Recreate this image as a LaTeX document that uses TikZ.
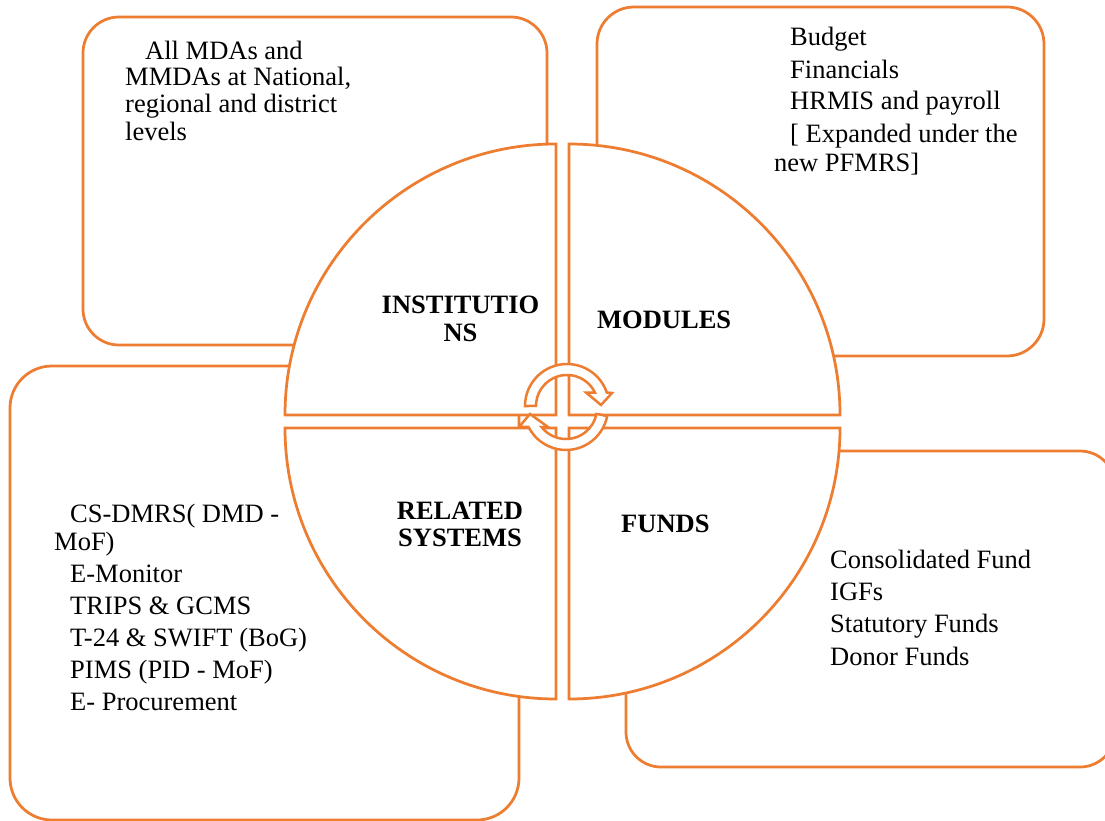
\documentclass[tikz,border=0pt]{standalone}
\usepackage{fontspec}
\setmainfont{Liberation Serif}
\definecolor{acc}{HTML}{ED7D31}
\begin{document}
\begin{tikzpicture}[x=1pt,y=-1pt,
  boxshape/.style={draw=acc, line width=2.75pt, fill=white},
  quad/.style={draw=acc, line width=2.75pt, fill=white, line join=miter},
  cyc/.style={draw=acc, line width=2.5pt, fill=white, line join=miter},
  txt/.style={anchor=base west, inner sep=0pt, font=\fontsize{26.5}{32}\selectfont},
  lbl/.style={anchor=base, inner sep=0pt, font=\fontsize{26.5}{32}\selectfont\bfseries}]
\useasboundingbox (0,0) rectangle (1105,821);
\fill[white] (0,0) rectangle (1105,821);

% outer text boxes
\draw[boxshape, rounded corners=36pt] (83,17) rectangle (547,345);
\draw[boxshape, rounded corners=37pt] (597,7) rectangle (1044,356);
\draw[boxshape, rounded corners=42pt] (10,366) rectangle (519,820);
\draw[boxshape, rounded corners=35pt] (626,451) rectangle (1115,767);

% four quadrants of the circle
\draw[quad] (556,415) -- (285,415) arc[start angle=180, end angle=270, radius=271] -- cycle;
\draw[quad] (569,415) -- (569,144) arc[start angle=270, end angle=360, radius=271] -- cycle;
\draw[quad] (569,428) -- (840,428) arc[start angle=0, end angle=90, radius=271] -- cycle;
\draw[quad] (556,428) -- (556,699) arc[start angle=90, end angle=180, radius=271] -- cycle;

% circular arrows in the centre
\coordinate (uc) at (567,406);
\coordinate (lc) at (566,408);
\draw[cyc] (525,406) arc[start angle=180, end angle=341.3, radius=42]
  -- (612,393) -- (601,405) -- (586,392.5) -- (594.9,392.5)
  arc[start angle=334.2, end angle=180, radius=31] -- cycle;
\draw[cyc] (607.2,416) arc[start angle=11, end angle=153.1, radius=42]
  -- (519,427) -- (530,414) -- (548,427) -- (541.5,427)
  arc[start angle=142.2, end angle=11, radius=31] -- cycle;

% quadrant labels
\node[lbl] (inst1) at (460.5,313) {INSTITUTIO};
\node[lbl] (inst2) at (460.5,341.7) {NS};
\node[lbl, anchor=base west] (mod) at (597,328.3) {MODULES};
\node[lbl] (rel1) at (460,519.3) {RELATED};
\node[lbl] (rel2) at (460,546.7) {SYSTEMS};
\node[lbl, anchor=base west] (fund) at (621,532.7) {FUNDS};

% top-left box text
\node[txt] (i1) at (145,59.3) {All MDAs and};
\node[txt] (i2) at (125,86) {MMDAs at National,};
\node[txt] (i3) at (125,113) {regional and district};
\node[txt] (i4) at (125,140.7) {levels};

% top-right box text
\node[txt] (m1) at (790,45.7) {Budget};
\node[txt] (m2) at (790,78.3) {Financials};
\node[txt] (m3) at (790,110) {HRMIS and payroll};
\node[txt] (m4) at (790,142.7) {[ Expanded under the};
\node[txt] (m5) at (774,171.7) {new PFMRS]};

% bottom-left box text
\node[txt] (r1) at (70,522.7) {CS-DMRS( DMD -};
\node[txt] (r2) at (54,550) {MoF)};
\node[txt] (r3) at (70,582.7) {E-Monitor};
\node[txt] (r4) at (70,614) {TRIPS \& GCMS};
\node[txt] (r5) at (70,646.7) {T-24 \& SWIFT (BoG)};
\node[txt] (r6) at (70,678.3) {PIMS (PID - MoF)};
\node[txt] (r7) at (70,710.7) {E- Procurement};

% bottom-right box text
\node[txt] (f1) at (830,568.3) {Consolidated Fund};
\node[txt] (f2) at (830,600.7) {IGFs};
\node[txt] (f3) at (830,632.7) {Statutory Funds};
\node[txt] (f4) at (830,665.7) {Donor Funds};
\end{tikzpicture}
\end{document}
